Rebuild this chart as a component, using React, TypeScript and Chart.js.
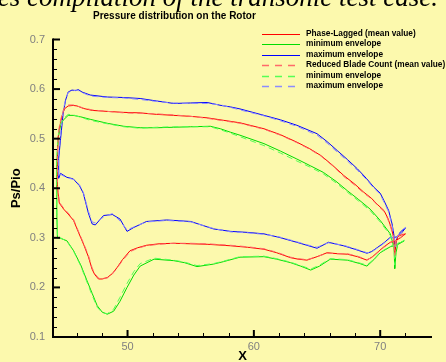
import React, { useEffect, useRef } from 'react';
import { Chart, registerables } from 'chart.js';

Chart.register(...registerables);

// ---------- data ----------
const xRange = [44.1, 74.1];
const yRange = [0.1, 0.7];
const xTicks = [50, 60, 70];
const xMinorTicks = [46, 48, 52, 54, 56, 58, 62, 64, 66, 68, 72];
const yTicks = [0.1, 0.2, 0.3, 0.4, 0.5, 0.6, 0.7];
const yMinorTicks = [0.12, 0.14, 0.16, 0.18, 0.22, 0.24, 0.26, 0.28, 0.32, 0.34, 0.36, 0.38, 0.42, 0.44, 0.46, 0.48, 0.52, 0.54, 0.56, 0.58, 0.62, 0.64, 0.66, 0.68];

const titleText = 'Pressure distribution on the Rotor';
const topText = 'es compilation of the transonic test case.';
const xTitle = 'X';
const yTitle = 'Ps/Pio';
const legendLabels = [
  'Phase-Lagged (mean value)',
  'minimum envelope',
  'maximum envelope',
  'Reduced Blade Count (mean value)',
  'minimum envelope',
  'maximum envelope',
];

// Phase-Lagged mean (red, solid)
const plMeanX = [44.6, 44.45, 44.45, 44.5, 44.6, 44.8, 45.0, 45.3, 45.7, 46.0, 46.5, 47.2, 48.4, 49.7, 51.0, 52.3, 53.65, 55.0, 56.3, 57.6, 58.9, 60.8, 62.1, 63.4, 64.4, 65.3, 66.2, 67.1, 68.0, 68.7, 69.3, 69.75, 70.3, 70.6, 70.85, 71.07, 71.15, 71.25, 71.4, 71.7, 72.0, 71.6, 71.2, 70.8, 70.3, 69.75, 69.4, 68.95, 68.2, 67.4, 66.6, 65.8, 65.0, 64.2, 63.5, 62.9, 61.8, 60.8, 59.5, 58.15, 56.3, 55.0, 53.65, 52.5, 51.5, 50.8, 50.2, 49.6, 49.17, 48.8, 48.4, 48.0, 47.7, 47.4, 47.19, 46.9, 46.52, 46.1, 45.73, 45.3, 44.94, 44.6];
const plMeanY = [0.370, 0.40, 0.46, 0.50, 0.52, 0.545, 0.560, 0.566, 0.567, 0.566, 0.561, 0.557, 0.555, 0.553, 0.552, 0.549, 0.547, 0.545, 0.542, 0.537, 0.532, 0.520, 0.508, 0.493, 0.480, 0.466, 0.447, 0.426, 0.408, 0.392, 0.380, 0.368, 0.355, 0.340, 0.322, 0.301, 0.262, 0.290, 0.303, 0.306, 0.308, 0.300, 0.294, 0.291, 0.282, 0.270, 0.262, 0.255, 0.262, 0.267, 0.268, 0.270, 0.262, 0.255, 0.257, 0.260, 0.270, 0.277, 0.281, 0.284, 0.287, 0.288, 0.289, 0.288, 0.285, 0.280, 0.274, 0.256, 0.240, 0.228, 0.220, 0.217, 0.217, 0.226, 0.237, 0.262, 0.287, 0.312, 0.335, 0.348, 0.358, 0.370];

// Phase-Lagged minimum envelope (green, solid)
const plMinX = [44.45, 44.4, 44.4, 44.5, 44.7, 44.9, 45.3, 45.7, 46.3, 47.05, 48.4, 49.7, 51.0, 52.3, 53.65, 55.0, 56.55, 57.35, 58.15, 58.9, 60.8, 62.1, 63.4, 64.5, 65.5, 66.5, 67.4, 68.3, 69.2, 70.0, 70.8, 71.1, 71.15, 71.25, 71.4, 71.9, 71.5, 71.1, 70.8, 70.0, 69.5, 68.95, 68.4, 67.4, 66.05, 65.2, 64.5, 63.7, 62.9, 61.8, 60.8, 58.9, 57.6, 56.8, 55.5, 54.5, 53.65, 52.1, 51.0, 50.5, 49.96, 49.4, 48.9, 48.4, 48.0, 47.6, 47.2, 46.8, 46.3, 45.73, 45.2, 44.7, 44.45];
const plMinY = [0.30, 0.35, 0.45, 0.50, 0.527, 0.537, 0.547, 0.547, 0.544, 0.539, 0.531, 0.525, 0.522, 0.522, 0.523, 0.524, 0.525, 0.520, 0.513, 0.507, 0.490, 0.475, 0.459, 0.445, 0.432, 0.414, 0.395, 0.377, 0.358, 0.335, 0.308, 0.280, 0.238, 0.270, 0.288, 0.294, 0.288, 0.284, 0.282, 0.270, 0.256, 0.243, 0.248, 0.255, 0.257, 0.243, 0.235, 0.243, 0.250, 0.257, 0.262, 0.261, 0.252, 0.247, 0.242, 0.250, 0.254, 0.257, 0.243, 0.225, 0.200, 0.172, 0.152, 0.146, 0.150, 0.163, 0.188, 0.213, 0.245, 0.274, 0.294, 0.299, 0.30];

// Phase-Lagged maximum envelope (blue, solid)
const plMaxX = [44.55, 44.55, 44.7, 44.9, 45.1, 45.3, 45.6, 45.9, 46.1, 46.4, 47.05, 48.4, 49.7, 51.0, 52.3, 53.65, 55.0, 56.3, 57.4, 58.15, 58.9, 60.8, 62.1, 63.4, 65.0, 65.8, 66.6, 67.4, 68.2, 68.9, 69.5, 70.0, 70.3, 70.67, 70.94, 71.07, 71.15, 71.2, 71.3, 71.6, 72.0, 71.7, 71.3, 71.0, 70.8, 70.3, 69.75, 69.3, 68.95, 68.0, 67.1, 65.9, 65.0, 64.2, 63.4, 62.0, 60.8, 59.5, 58.15, 56.8, 55.0, 53.1, 51.5, 50.5, 49.96, 49.4, 48.8, 48.1, 47.45, 47.2, 46.9, 46.5, 46.2, 45.7, 45.2, 44.7, 44.55];
const plMaxY = [0.42, 0.46, 0.50, 0.55, 0.578, 0.594, 0.598, 0.597, 0.599, 0.594, 0.588, 0.584, 0.583, 0.581, 0.576, 0.571, 0.572, 0.573, 0.567, 0.564, 0.560, 0.547, 0.538, 0.527, 0.510, 0.494, 0.476, 0.458, 0.439, 0.420, 0.402, 0.390, 0.375, 0.355, 0.328, 0.308, 0.290, 0.278, 0.298, 0.312, 0.320, 0.310, 0.302, 0.300, 0.301, 0.290, 0.280, 0.272, 0.269, 0.277, 0.284, 0.291, 0.279, 0.285, 0.291, 0.301, 0.308, 0.311, 0.313, 0.318, 0.333, 0.336, 0.333, 0.321, 0.313, 0.338, 0.347, 0.345, 0.326, 0.328, 0.350, 0.390, 0.405, 0.419, 0.422, 0.430, 0.42];

// Reduced Blade Count mean (red, dashed)
const rbMeanX = [44.6, 44.45, 44.45, 44.5, 44.6, 44.8, 45.0, 45.3, 45.7, 46.0, 46.5, 47.2, 48.4, 49.7, 51.0, 52.3, 53.65, 55.0, 56.3, 57.6, 58.9, 60.8, 62.1, 63.4, 64.4, 65.3, 66.2, 67.1, 68.0, 68.7, 69.3, 69.75, 70.3, 70.6, 70.85, 71.05, 71.15, 71.25, 71.4, 71.7, 72.0, 71.6, 71.2, 70.8, 70.3, 69.75, 69.4, 68.95, 68.2, 67.4, 66.6, 65.8, 65.0, 64.2, 63.5, 62.9, 61.8, 60.8, 59.5, 58.15, 56.3, 55.0, 53.65, 52.5, 51.5, 50.8, 50.2, 49.6, 49.17, 48.8, 48.4, 48.0, 47.7, 47.4, 47.19, 46.9, 46.52, 46.1, 45.73, 45.3, 44.94, 44.6];
const rbMeanY = [0.372, 0.41, 0.47, 0.505, 0.525, 0.548, 0.562, 0.568, 0.568, 0.566, 0.562, 0.558, 0.555, 0.552, 0.551, 0.550, 0.548, 0.545, 0.541, 0.536, 0.531, 0.519, 0.507, 0.492, 0.479, 0.465, 0.446, 0.424, 0.406, 0.390, 0.379, 0.367, 0.353, 0.338, 0.320, 0.300, 0.265, 0.292, 0.304, 0.307, 0.309, 0.301, 0.295, 0.290, 0.281, 0.269, 0.261, 0.256, 0.263, 0.268, 0.268, 0.269, 0.262, 0.256, 0.258, 0.261, 0.271, 0.278, 0.282, 0.285, 0.288, 0.289, 0.289, 0.287, 0.284, 0.279, 0.272, 0.254, 0.239, 0.227, 0.219, 0.218, 0.219, 0.228, 0.240, 0.265, 0.289, 0.314, 0.337, 0.350, 0.360, 0.372];

// Reduced Blade Count minimum envelope (green, dashed)
const rbMinX = [44.45, 44.4, 44.4, 44.5, 44.7, 44.9, 45.3, 45.7, 46.3, 47.05, 48.4, 49.7, 51.0, 52.3, 53.65, 55.0, 56.55, 57.35, 58.15, 58.9, 60.8, 62.1, 63.4, 64.5, 65.5, 66.5, 67.4, 68.3, 69.2, 70.0, 70.8, 71.1, 71.15, 71.25, 71.4, 71.9, 71.5, 71.1, 70.8, 70.0, 69.5, 68.95, 68.4, 67.4, 66.05, 65.2, 64.5, 63.7, 62.9, 61.8, 60.8, 58.9, 57.6, 56.8, 55.5, 54.5, 53.65, 52.1, 51.0, 50.5, 49.96, 49.4, 48.9, 48.4, 48.0, 47.6, 47.2, 46.8, 46.3, 45.73, 45.2, 44.7, 44.45];
const rbMinY = [0.305, 0.36, 0.46, 0.505, 0.530, 0.540, 0.549, 0.548, 0.543, 0.537, 0.530, 0.524, 0.521, 0.523, 0.524, 0.524, 0.524, 0.518, 0.511, 0.504, 0.486, 0.471, 0.455, 0.442, 0.429, 0.411, 0.392, 0.374, 0.355, 0.332, 0.305, 0.278, 0.245, 0.272, 0.289, 0.295, 0.289, 0.285, 0.283, 0.271, 0.257, 0.245, 0.249, 0.256, 0.258, 0.245, 0.237, 0.244, 0.251, 0.258, 0.263, 0.262, 0.253, 0.248, 0.244, 0.251, 0.255, 0.259, 0.248, 0.232, 0.208, 0.180, 0.156, 0.147, 0.149, 0.160, 0.184, 0.210, 0.243, 0.273, 0.293, 0.300, 0.305];

// Reduced Blade Count maximum envelope (blue, dashed)
const rbMaxX = [44.55, 44.55, 44.7, 44.9, 45.1, 45.3, 45.6, 45.9, 46.1, 46.4, 47.05, 48.4, 49.7, 51.0, 52.3, 53.65, 55.0, 56.3, 57.4, 58.15, 58.9, 60.8, 62.1, 63.4, 65.0, 65.8, 66.6, 67.4, 68.2, 68.9, 69.5, 70.0, 70.3, 70.67, 70.94, 71.07, 71.15, 71.2, 71.3, 71.6, 72.0, 71.7, 71.3, 71.0, 70.8, 70.3, 69.75, 69.3, 68.95, 68.0, 67.1, 65.9, 65.0, 64.2, 63.4, 62.0, 60.8, 59.5, 58.15, 56.8, 55.0, 53.1, 51.5, 50.5, 49.96, 49.4, 48.8, 48.1, 47.45, 47.2, 46.9, 46.5, 46.2, 45.7, 45.2, 44.7, 44.55];
const rbMaxY = [0.425, 0.47, 0.51, 0.556, 0.580, 0.593, 0.596, 0.598, 0.597, 0.593, 0.586, 0.583, 0.582, 0.579, 0.575, 0.572, 0.571, 0.571, 0.568, 0.563, 0.558, 0.546, 0.536, 0.525, 0.507, 0.491, 0.473, 0.455, 0.436, 0.418, 0.400, 0.388, 0.372, 0.352, 0.325, 0.306, 0.292, 0.282, 0.300, 0.313, 0.321, 0.311, 0.303, 0.301, 0.300, 0.289, 0.279, 0.271, 0.270, 0.278, 0.285, 0.290, 0.281, 0.286, 0.292, 0.302, 0.307, 0.310, 0.312, 0.319, 0.332, 0.335, 0.332, 0.322, 0.316, 0.334, 0.349, 0.342, 0.330, 0.332, 0.354, 0.392, 0.407, 0.418, 0.421, 0.428, 0.425];

// ---------- styles ----------
const FONT = "'Liberation Sans', Arial, Helvetica, sans-serif";
const BG = '#fcf9ad';
const seriesColors = ['#ff0000', '#00dd00', '#0000ff', '#ff6a6a', '#55ff55', '#8c8cff'];

const toPts = (xs: number[], ys: number[]) => xs.map((x, i) => ({ x, y: ys[i] }));

const decorPlugin = {
  id: 'decor',
  beforeDraw(chart: any) {
    const ctx = chart.ctx;
    ctx.save();
    ctx.fillStyle = BG;
    ctx.fillRect(0, 0, chart.width, chart.height);
    ctx.restore();
  },
  afterDraw(chart: any) {
    const ctx = chart.ctx;
    const { left, right, top, bottom } = chart.chartArea;
    const xs = chart.scales.x;
    const ys = chart.scales.y;
    ctx.save();
    // axes
    ctx.strokeStyle = '#000';
    ctx.lineWidth = 2;
    ctx.beginPath();
    ctx.moveTo(left, top - 1);
    ctx.lineTo(left, bottom);
    ctx.lineTo(right, bottom);
    ctx.stroke();
    // y ticks
    yTicks.forEach((v) => {
      const y = ys.getPixelForValue(v);
      ctx.lineWidth = 2;
      ctx.beginPath();
      ctx.moveTo(left, y);
      ctx.lineTo(left + 7, y);
      ctx.stroke();
    });
    yMinorTicks.forEach((v) => {
      const y = Math.round(ys.getPixelForValue(v)) + 0.5;
      ctx.lineWidth = 1;
      ctx.beginPath();
      ctx.moveTo(left, y);
      ctx.lineTo(left + 4, y);
      ctx.stroke();
    });
    xTicks.forEach((v) => {
      const x = xs.getPixelForValue(v);
      ctx.lineWidth = 2;
      ctx.beginPath();
      ctx.moveTo(x, bottom);
      ctx.lineTo(x, bottom - 7);
      ctx.stroke();
    });
    xMinorTicks.forEach((v) => {
      const x = Math.round(xs.getPixelForValue(v)) + 0.5;
      ctx.lineWidth = 1;
      ctx.beginPath();
      ctx.moveTo(x, bottom);
      ctx.lineTo(x, bottom - 4);
      ctx.stroke();
    });
    // top cut-off document text
    ctx.fillStyle = '#000';
    ctx.font = "italic 27px 'Liberation Serif', 'DejaVu Serif', serif";
    ctx.textAlign = 'right';
    ctx.textBaseline = 'alphabetic';
    ctx.fillText(topText, 438, 5.5);
    // title
    ctx.font = `bold 10px ${FONT}`;
    ctx.textAlign = 'left';
    ctx.textBaseline = 'middle';
    ctx.fillText(titleText, 93, 16);
    // legend
    legendLabels.forEach((label, i) => {
      const y = 33.5 + i * 10.5;
      ctx.strokeStyle = seriesColors[i];
      ctx.lineWidth = i >= 3 ? 1.5 : 1;
      ctx.setLineDash(i >= 3 ? [7, 6] : []);
      ctx.beginPath();
      ctx.moveTo(262, Math.round(y) + 0.5);
      ctx.lineTo(300, Math.round(y) + 0.5);
      ctx.stroke();
      ctx.setLineDash([]);
      ctx.fillStyle = '#000';
      ctx.font = `bold 8.3px ${FONT}`;
      ctx.fillText(label, 306, y);
    });
    ctx.restore();
  },
};

export default function App() {
  const ref = useRef<HTMLCanvasElement | null>(null);
  useEffect(() => {
    document.body.style.margin = '0';
    const canvas = ref.current;
    if (!canvas) return;
    const series = [
      { label: legendLabels[0], xs: plMeanX, ys: plMeanY, dash: false, color: seriesColors[0] },
      { label: legendLabels[1], xs: plMinX, ys: plMinY, dash: false, color: seriesColors[1] },
      { label: legendLabels[2], xs: plMaxX, ys: plMaxY, dash: false, color: seriesColors[2] },
      { label: legendLabels[3], xs: rbMeanX, ys: rbMeanY, dash: true, color: seriesColors[3] },
      { label: legendLabels[4], xs: rbMinX, ys: rbMinY, dash: true, color: seriesColors[4] },
      { label: legendLabels[5], xs: rbMaxX, ys: rbMaxY, dash: true, color: seriesColors[5] },
    ];
    const chart = new Chart(canvas, {
      type: 'scatter',
      data: {
        datasets: series.map((s) => ({
          label: s.label,
          data: toPts(s.xs, s.ys),
          showLine: true,
          borderColor: s.color,
          backgroundColor: s.color,
          borderWidth: 1,
          borderDash: s.dash ? [6, 4] : [],
          pointRadius: 0,
          tension: 0,
          fill: false,
          order: s.dash ? 0 : 1,
        })),
      },
      options: {
        animation: false,
        responsive: false,
        events: [],
        layout: { padding: { top: 39.5, right: 14, bottom: 0, left: 0 } },
        plugins: {
          legend: { display: false },
          tooltip: { enabled: false },
          title: { display: false },
        },
        scales: {
          x: {
            type: 'linear',
            min: xRange[0],
            max: xRange[1],
            afterBuildTicks: (s: any) => {
              s.ticks = xTicks.map((v) => ({ value: v }));
            },
            afterFit: (s: any) => {
              s.height = 25;
            },
            grid: { display: false, drawTicks: false },
            border: { display: false },
            ticks: {
              padding: 3,
              color: '#808080',
              font: { family: FONT, size: 11 },
              maxRotation: 0,
              autoSkip: false,
            },
            title: {
              display: true,
              text: xTitle,
              color: '#000',
              font: { family: FONT, size: 13, weight: 'bold', lineHeight: 0.85 },
              padding: 0,
            },
          },
          y: {
            type: 'linear',
            min: yRange[0],
            max: yRange[1],
            afterBuildTicks: (s: any) => {
              s.ticks = yTicks.map((v) => ({ value: v }));
            },
            afterFit: (s: any) => {
              s.width = 53;
            },
            grid: { display: false, drawTicks: false },
            border: { display: false },
            ticks: {
              padding: 8,
              color: '#808080',
              font: { family: FONT, size: 11 },
              callback: (v: any) => Number(v).toFixed(1),
            },
            title: {
              display: true,
              text: yTitle,
              color: '#000',
              font: { family: FONT, size: 13, weight: 'bold', lineHeight: 1.2 },
              padding: { top: 9, bottom: 0 },
            },
          },
        },
      },
      plugins: [decorPlugin],
    });
    return () => chart.destroy();
  }, []);
  return (
    <div style={{ width: 446, height: 362 }}>
      <canvas ref={ref} width={446} height={362} style={{ display: 'block' }} />
    </div>
  );
}
